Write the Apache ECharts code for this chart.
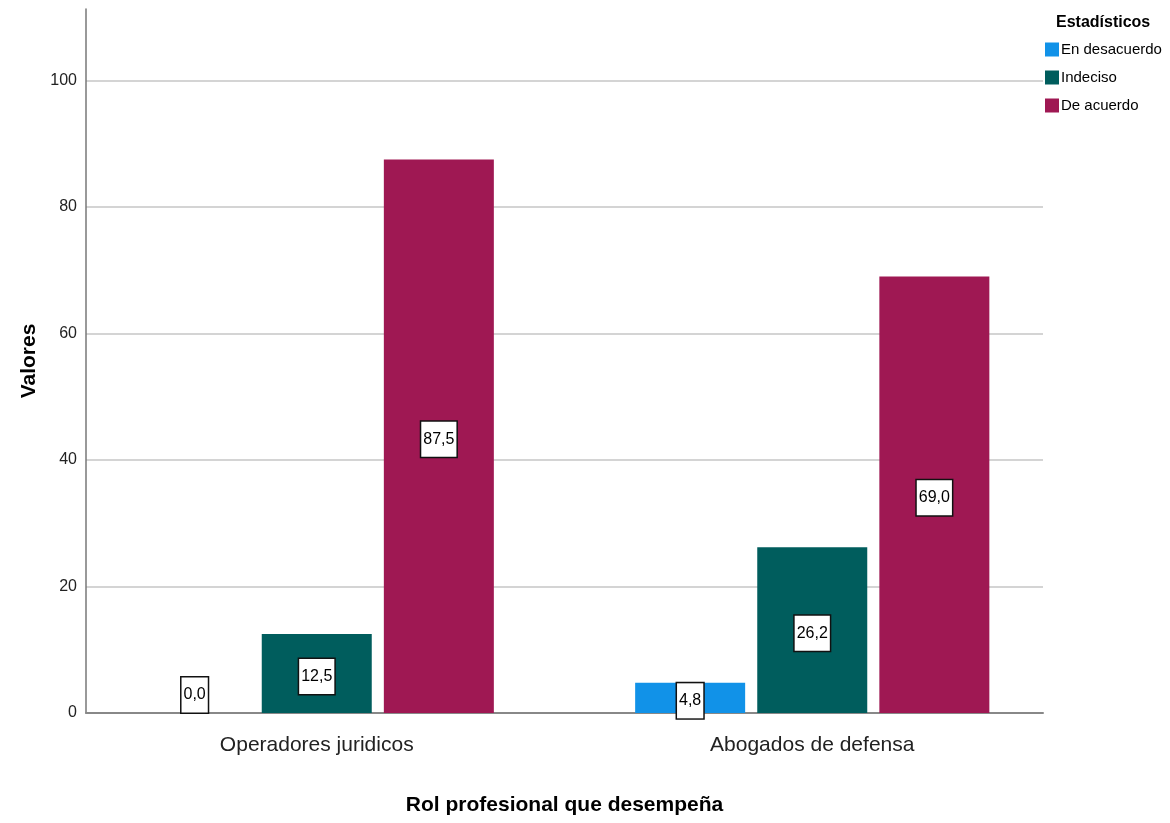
<!DOCTYPE html>
<html>
<head>
<meta charset="utf-8">
<script src="https://cdn.jsdelivr.net/npm/echarts@6/dist/echarts.min.js"></script>
<style>
  html, body { margin: 0; padding: 0; background: #fff; }
  #main { width: 1170px; height: 823px; }
</style>
</head>
<body>
<div id="main"></div>
<script>
// datos
var categorias = ['Operadores juridicos', 'Abogados de defensa'];
var enDesacuerdo = [0.0, 4.8];
var indeciso = [12.5, 26.2];
var deAcuerdo = [87.5, 69.0];
var nombres = ['En desacuerdo', 'Indeciso', 'De acuerdo'];
var colores = ['#1192e8', '#005d5d', '#9f1853'];

var fuente = "'Liberation Sans Narrow', 'Liberation Sans', Arial, sans-serif";

function fmt(v) {
  return v.toFixed(1).replace('.', ',');
}

// la etiqueta de una barra en cero se sube un poco, como en SPSS
function datos(arr) {
  return arr.map(function (v) {
    if (v === 0) {
      return { value: v, label: { offset: [0, -18] } };
    }
    return v;
  });
}

function serie(nombre, arr, color) {
  return {
    name: nombre,
    type: 'bar',
    xAxisIndex: 1,
    yAxisIndex: 1,
    barWidth: 110,
    barGap: '11%',
    itemStyle: { color: color },
    label: {
      show: true,
      position: 'inside',
      offset: [0, 3],
      formatter: function (p) { return fmt(p.value); },
      color: '#000',
      fontFamily: fuente,
      fontSize: 16,
      backgroundColor: '#fff',
      borderColor: '#111',
      borderWidth: 1.5,
      padding: [10, 2, 9, 2]
    },
    data: datos(arr)
  };
}

var chart = echarts.init(document.getElementById('main'));
chart.setOption({
  animation: false,
  title: {
    text: 'Estadísticos',
    left: 1056,
    top: 15,
    padding: 0,
    textStyle: { fontFamily: fuente, fontSize: 16, fontWeight: 'bold', color: '#000' }
  },
  legend: {
    orient: 'vertical',
    left: 1045,
    top: 42,
    padding: 0,
    itemGap: 13,
    itemWidth: 14,
    itemHeight: 14,
    icon: 'rect',
    data: nombres,
    textStyle: { fontFamily: fuente, fontSize: 15, color: '#000', padding: [0, 0, 0, -3] }
  },
  grid: [
    { left: 86, right: 127, top: 9, bottom: 110 },
    { left: 69, right: 110, top: 9, bottom: 110 }
  ],
  xAxis: [
    {
      gridIndex: 0,
      type: 'category',
      data: categorias,
      axisLine: { lineStyle: { color: '#888', width: 2 } },
      axisTick: { show: false },
      axisLabel: { show: false },
      name: 'Rol profesional que desempeña',
      nameLocation: 'middle',
      nameGap: 82,
      nameTextStyle: { fontFamily: fuente, fontSize: 21, fontWeight: 'bold', color: '#000' }
    },
    {
      gridIndex: 1,
      type: 'category',
      data: categorias,
      axisLine: { show: false },
      axisTick: { show: false },
      axisLabel: { margin: 22, fontFamily: fuente, fontSize: 21, color: '#222' }
    }
  ],
  yAxis: [
    {
      gridIndex: 0,
      type: 'value',
      min: 0,
      max: 111.3,
      interval: 20,
      axisLine: { show: true, lineStyle: { color: '#777', width: 1.5 } },
      axisTick: { show: false },
      axisLabel: { showMaxLabel: false, margin: 9, fontFamily: fuente, fontSize: 16, color: '#222' },
      splitLine: { show: true, showMinLine: false, showMaxLine: false, lineStyle: { color: '#d4d4d4', width: 2 } },
      name: 'Valores',
      nameLocation: 'middle',
      nameGap: 46,
      nameTextStyle: { fontFamily: fuente, fontSize: 21, fontWeight: 'bold', color: '#000' }
    },
    {
      gridIndex: 1,
      type: 'value',
      min: 0,
      max: 111.3,
      interval: 20,
      show: false
    }
  ],
  series: [
    serie(nombres[0], enDesacuerdo, colores[0]),
    serie(nombres[1], indeciso, colores[1]),
    serie(nombres[2], deAcuerdo, colores[2])
  ]
});
</script>
</body>
</html>
